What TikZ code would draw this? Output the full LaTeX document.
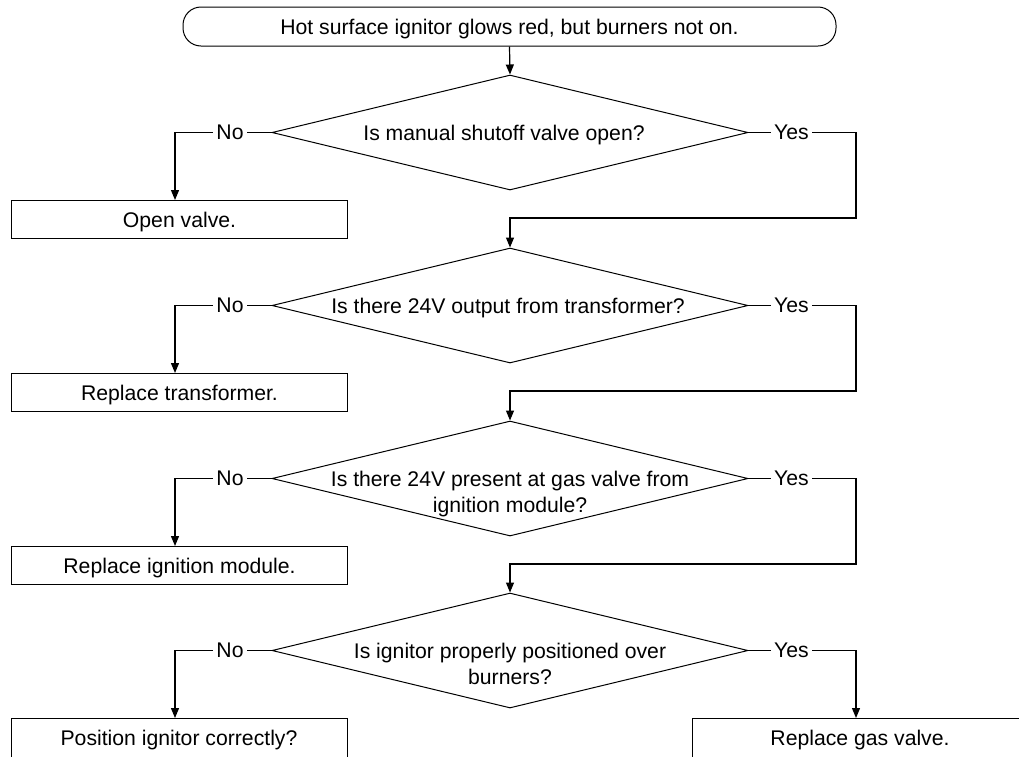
\documentclass[tikz,border=0pt]{standalone}
\usepackage{fontspec}
\setmainfont{Liberation Sans}
\usetikzlibrary{shapes.geometric,arrows.meta}
\begin{document}
\begin{tikzpicture}[x=1pt,y=-1pt,
  every node/.style={font=\fontsize{21.2pt}{26pt}\selectfont, text depth=0pt},
  term/.style={draw, line width=1pt, rounded corners=18pt, minimum width=653pt, minimum height=39pt, inner sep=0pt},
  decide/.style={draw, diamond, line width=1pt, minimum width=476pt, minimum height=115pt, inner sep=0pt},
  qtext/.style={align=center, inner sep=0pt},
  actbox/.style={draw, line width=1pt, minimum width=336pt, minimum height=38pt, inner sep=0pt, anchor=north west},
  lbl/.style={fill=white, inner sep=3pt},
  conn/.style={line width=1.2pt},
  arr/.style={conn, -{Triangle[length=10pt,width=8pt]}}
]
\useasboundingbox (0,0) rectangle (1019,756);
\clip (0,0) rectangle (1019,756);

% start
\node[term] (start) at (509.5,26.5) {Hot surface ignitor glows red, but burners not on.};

% decisions
\node[decide] (d1) at (510,132.5) {};
\node[qtext] (t1) at (504,132.5) {Is manual shutoff valve open?};
\node[decide] (d2) at (510,305.5) {};
\node[qtext] (t2) at (508,305.5) {Is there 24V output from transformer?};
\node[decide] (d3) at (510,478.5) {};
\node[qtext] (t3) at (510,491.5) {Is there 24V present at gas valve from\\ignition module?};
\node[decide] (d4) at (510,650.5) {};
\node[qtext] (t4) at (510,663.5) {Is ignitor properly positioned over\\burners?};

% actions
\node[actbox] (b1) at (11,200) {Open valve.};
\node[actbox] (b2) at (11,373) {Replace transformer.};
\node[actbox] (b3) at (11,546) {Replace ignition module.};
\node[actbox, minimum height=42pt] (b4) at (11,718) {};
\node (t5) at (179,738) {Position ignitor correctly?};
\node[actbox, minimum height=42pt] (b5) at (692,718) {};
\node (t6) at (860,738) {Replace gas valve.};

% corner coordinates
\coordinate (n1) at (175,132.5);
\coordinate (n2) at (175,305.5);
\coordinate (n3) at (175,478.5);
\coordinate (n4) at (175,650.5);
\coordinate (y1) at (856,132.5);
\coordinate (y2) at (856,305.5);
\coordinate (y3) at (856,478.5);
\coordinate (y4) at (856,650.5);
\coordinate (m1) at (856,218);
\coordinate (m2) at (856,391);
\coordinate (m3) at (856,564);

% connectors
\draw[arr] (start.south) -- (d1.north);

\draw[arr] (d1.west) -- node[lbl,pos=0.43]{No} (n1) -- (n1 |- b1.north);
\draw[arr] (d2.west) -- node[lbl,pos=0.43]{No} (n2) -- (n2 |- b2.north);
\draw[arr] (d3.west) -- node[lbl,pos=0.43]{No} (n3) -- (n3 |- b3.north);
\draw[arr] (d4.west) -- node[lbl,pos=0.43]{No} (n4) -- (n4 |- b4.north);

\draw[arr] (d1.east) -- node[lbl,pos=0.40]{Yes} (y1) -- (m1) -- (m1 -| d2.north) -- (d2.north);
\draw[arr] (d2.east) -- node[lbl,pos=0.40]{Yes} (y2) -- (m2) -- (m2 -| d3.north) -- (d3.north);
\draw[arr] (d3.east) -- node[lbl,pos=0.40]{Yes} (y3) -- (m3) -- (m3 -| d4.north) -- (d4.north);
\draw[arr] (d4.east) -- node[lbl,pos=0.40]{Yes} (y4) -- (y4 |- b5.north);
\end{tikzpicture}
\end{document}
